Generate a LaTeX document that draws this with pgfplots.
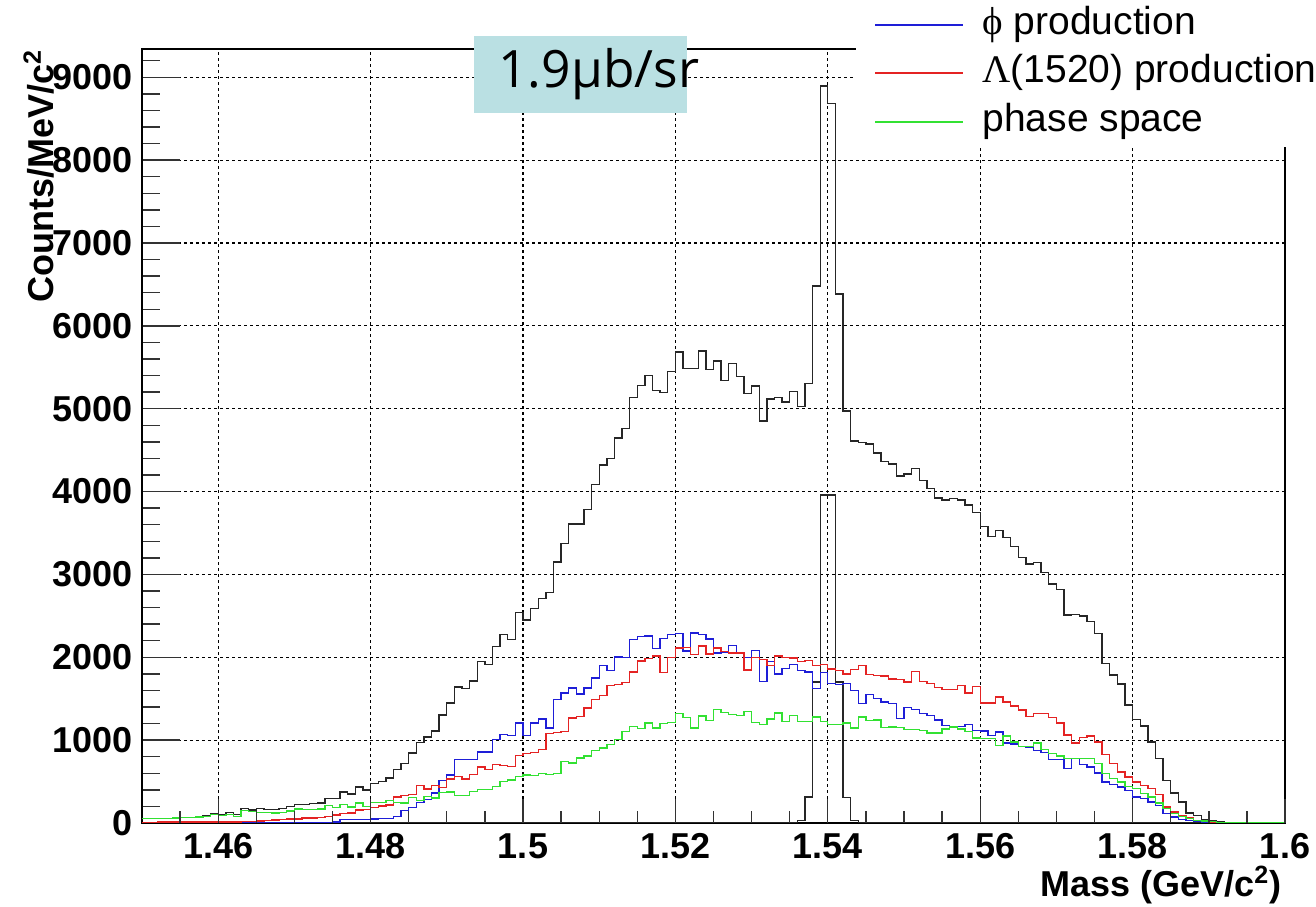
\documentclass[border=0pt]{standalone}
\usepackage{pgfplots}
\pgfplotsset{compat=1.18}
\usepackage{pgfplotstable}
\usepackage{fontspec}
\setmainfont{Liberation Sans}
\newfontfamily\greekserif{Liberation Serif}
\newfontfamily\boxfont{Open Sans}
\definecolor{hblue}{RGB}{30,30,215}
\definecolor{hred}{RGB}{228,35,35}
\definecolor{hgreen}{RGB}{50,225,50}
\definecolor{boxcol}{RGB}{186,224,227}

\pgfplotstableread{
x T S B R G
1.450 52 0 0 0 52
1.451 54 0 0 0 54
1.452 56 0 8 10 56
1.453 58 0 8 10 58
1.454 60 0 8 10 60
1.455 68 0 8 10 65
1.456 70 0 8 10 68
1.457 77 0 8 10 72
1.458 89 0 8 10 80
1.459 117 0 8 10 100
1.460 105 0 8 10 90
1.461 125 0 8 10 105
1.462 100 0 8 10 80
1.463 175 0 8 15 150
1.464 158 0 8 15 135
1.465 178 0 5 25 130
1.466 166 0 5 30 125
1.467 166 0 5 38 120
1.468 178 0 5 40 130
1.469 198 0 5 48 145
1.470 226 0 5 50 170
1.471 226 0 5 60 160
1.472 232 0 5 60 165
1.473 240 0 5 64 170
1.474 295 0 5 77 210
1.475 295 0 10 97 190
1.476 372 0 40 115 220
1.477 351 0 40 120 195
1.478 436 0 40 155 240
1.479 400 0 40 160 200
1.480 480 0 50 188 245
1.481 500 0 52 204 245
1.482 545 0 52 215 270
1.483 642 0 80 315 250
1.484 719 0 150 330 240
1.485 844 0 190 345 310
1.486 970 0 250 450 270
1.487 1038 0 280 410 320
1.488 1110 0 360 450 300
1.489 1305 0 510 425 370
1.490 1450 0 580 530 375
1.491 1640 0 764 560 335
1.492 1620 0 764 529 335
1.493 1713 0 764 582 380
1.494 1947 0 856 675 408
1.495 1915 0 856 642 408
1.496 2129 0 1006 703 440
1.497 2275 0 1066 691 500
1.498 2218 0 1054 683 520
1.499 2541 0 1208 812 560
1.500 2448 0 1058 836 580
1.501 2590 0 1208 852 570
1.502 2711 0 1256 885 600
1.503 2784 0 1147 1079 585
1.504 3150 0 1487 1095 600
1.505 3374 0 1568 1107 745
1.506 3607 0 1628 1269 725
1.507 3607 0 1555 1289 785
1.508 3784 0 1628 1390 810
1.509 4085 0 1750 1491 875
1.510 4319 0 1900 1539 905
1.511 4399 0 1838 1660 945
1.512 4648 0 2004 1670 1005
1.513 4761 0 1996 1693 1105
1.514 5135 0 2218 1822 1165
1.515 5283 0 2250 1955 1140
1.516 5400 0 2258 1984 1205
1.517 5223 0 2105 2016 1145
1.518 5199 0 2230 1814 1200
1.519 5452 0 2278 2000 1215
1.520 5685 0 2285 2110 1320
1.521 5488 0 2075 2118 1270
1.522 5488 0 2295 2034 1145
1.523 5697 0 2275 2138 1290
1.524 5472 0 2220 2040 1235
1.525 5577 0 2050 2110 1370
1.526 5344 0 2064 2070 1330
1.527 5545 0 2144 2050 1310
1.528 5392 0 2052 2050 1300
1.529 5183 0 2000 1845 1345
1.530 5275 0 2085 2000 1210
1.531 4853 0 1710 1972 1188
1.532 5115 0 1952 1900 1256
1.533 5135 0 1800 2015 1329
1.534 5082 0 1865 2000 1228
1.535 5211 0 1912 1992 1297
1.536 5030 32 1843 1952 1228
1.537 5303 312 1823 1960 1228
1.538 6481 1700 1626 1900 1281
1.539 8894 3960 1819 1915 1228
1.540 8686 3960 1686 1860 1188
1.541 6384 1700 1668 1840 1188
1.542 4974 304 1680 1800 1208
1.543 4612 32 1600 1855 1147
1.544 4592 0 1445 1900 1281
1.545 4572 0 1550 1790 1235
1.546 4467 0 1500 1780 1245
1.547 4359 0 1460 1775 1155
1.548 4331 0 1440 1740 1160
1.549 4186 0 1262 1730 1150
1.550 4210 0 1396 1703 1132
1.551 4278 0 1366 1826 1130
1.552 4130 0 1325 1710 1120
1.553 4037 0 1295 1680 1085
1.554 3921 0 1245 1632 1085
1.555 3896 0 1180 1608 1135
1.556 3913 0 1164 1608 1160
1.557 3896 0 1164 1656 1135
1.558 3836 0 1188 1568 1105
1.559 3744 0 1118 1648 1024
1.560 3575 0 1110 1450 1018
1.561 3454 0 1057 1447 1018
1.562 3527 0 1098 1519 932
1.563 3446 0 966 1460 1048
1.564 3334 0 952 1414 978
1.565 3205 0 922 1362 922
1.566 3125 0 912 1285 922
1.567 3141 0 876 1325 965
1.568 3020 0 851 1318 885
1.569 2883 0 769 1272 835
1.570 2819 0 766 1209 810
1.571 2510 0 657 1060 778
1.572 2519 0 778 967 778
1.573 2499 0 705 1032 778
1.574 2430 0 677 1048 778
1.575 2289 0 605 979 717
1.576 1926 0 496 830 596
1.577 1785 0 463 717 536
1.578 1676 0 435 617 496
1.579 1423 0 395 556 443
1.580 1249 0 314 496 415
1.581 1169 0 294 455 355
1.582 979 0 254 415 314
1.583 778 0 214 347 242
1.584 516 0 113 193 173
1.585 363 0 73 133 113
1.586 254 0 40 93 81
1.587 121 0 32 64 52
1.588 93 0 20 32 32
1.589 40 0 12 24 24
1.590 24 0 4 12 16
1.591 12 0 0 8 8
1.592 8 0 0 4 4
1.593 0 0 0 0 0
1.594 0 0 0 0 0
1.595 0 0 0 0 0
1.596 0 0 0 0 0
1.597 0 0 0 0 0
1.598 0 0 0 0 0
1.599 0 0 0 0 0
1.600 0 0 0 0 0
}\histdata

\begin{document}
\begin{tikzpicture}
\begin{axis}[
  width=457.2pt, height=309.6pt, scale only axis,
  xmin=1.45, xmax=1.6, ymin=0, ymax=9341,
  xtick={1.46,1.48,1.5,1.52,1.54,1.56,1.58,1.6},
  ytick={0,1000,2000,3000,4000,5000,6000,7000,8000,9000},
  minor ytick={200,400,...,9200},
  xmajorticks=false, xminorticks=false,
  ytick pos=left,
  tick align=inside,
  major tick length=15.2pt, minor tick length=7.2pt,
  grid=major,
  major grid style={black, line width=0.45pt, dash pattern=on 1.2pt off 1.2pt},
  axis line style={black, line width=0.55pt},
  tick style={black!80, line width=0.55pt},
  /pgf/number format/assume math mode=true,
  /pgf/number format/1000 sep={},
  scaled ticks=false,
  yticklabel style={font={\bfseries\fontsize{14.4}{17}\selectfont}, inner sep=0pt, xshift=-3.6pt},
]
\addplot[const plot mark left, black!85, line width=0.55pt] table[x=x,y=T]{\histdata};
\addplot[const plot mark left, black!85, line width=0.55pt] table[x=x,y=S]{\histdata};
\addplot[const plot mark left, hblue, line width=0.55pt] table[x=x,y=B]{\histdata};
\addplot[const plot mark left, hred, line width=0.55pt] table[x=x,y=R]{\histdata};
\addplot[const plot mark left, hgreen, line width=0.55pt] table[x=x,y=G]{\histdata};
\end{axis}
\begin{axis}[
  width=457.2pt, height=309.6pt, scale only axis,
  xmin=1.45, xmax=1.6, ymin=0, ymax=9341,
  xtick={1.46,1.48,1.5,1.52,1.54,1.56,1.58,1.6},
  minor xtick={1.455,1.465,1.47,1.475,1.485,1.49,1.495,1.505,1.51,1.515,1.525,1.53,1.535,1.545,1.55,1.555,1.565,1.57,1.575,1.585,1.59,1.595},
  ytick=\empty, ymajorticks=false, yminorticks=false,
  xtick pos=left,
  tick align=inside,
  major tick length=9.6pt, minor tick length=4.8pt,
  axis line style={draw=none},
  tick style={black!80, line width=0.55pt},
  /pgf/number format/assume math mode=true,
  /pgf/number format/1000 sep={},
  scaled ticks=false,
  xticklabel style={font={\bfseries\fontsize{14.4}{17}\selectfont}, inner sep=0pt, yshift=-4pt},
]
\end{axis}
% legend
\fill[white] (285.6pt,270.4pt) rectangle (469.6pt,329.2pt);
\draw[hblue, line width=0.5pt] (293.2pt,319.2pt) -- (328.4pt,319.2pt);
\draw[hred, line width=0.5pt] (293.2pt,300.0pt) -- (328.4pt,300.0pt);
\draw[hgreen, line width=0.5pt] (293.2pt,280.4pt) -- (328.4pt,280.4pt);
\node[anchor=base west, inner sep=0pt, font=\fontsize{15.6}{18}\selectfont] at (336pt,315.2pt) {{\greekserif ϕ} production};
\node[anchor=base west, inner sep=0pt, font=\fontsize{15.6}{18}\selectfont] at (336pt,296.0pt) {{\greekserif Λ}(1520) production};
\node[anchor=base west, inner sep=0pt, font=\fontsize{15.6}{18}\selectfont] at (336pt,276.4pt) {phase space};
% cross-section box
\fill[boxcol] (132.8pt,284pt) rectangle (218pt,314.8pt);
\node[anchor=base west, inner sep=0pt, font={\boxfont\fontsize{20.6}{24}\selectfont}] at (142.4pt,294.3pt) {1.9μb/sr};
% axis titles
\node[rotate=90, anchor=base east, inner sep=0pt, font={\bfseries\fontsize{14.4}{17}\selectfont}] at (-35.2pt,309.6pt) {Counts/MeV/c\textsuperscript{2}};
\node[anchor=base east, inner sep=0pt, font={\bfseries\fontsize{14.4}{17}\selectfont}] at (456pt,-29.6pt) {Mass (GeV/c\textsuperscript{2})};
\pgfresetboundingbox
\path[use as bounding box] (-56.8pt,-33.6pt) rectangle (469.6pt,329.2pt);
\end{tikzpicture}
\end{document}
